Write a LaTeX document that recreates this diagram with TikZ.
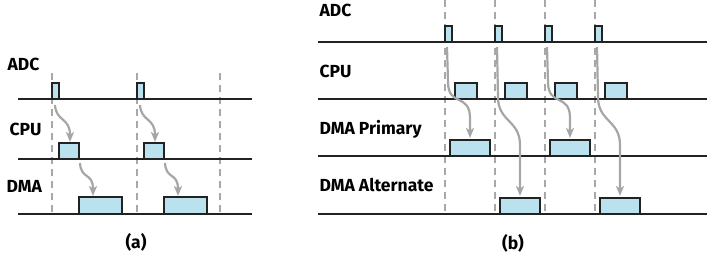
\documentclass[tikz,border=0pt]{standalone}
\usepackage{fontspec}
\setmainfont{Fira Sans}
\usetikzlibrary{arrows.meta}
\definecolor{boxblue}{HTML}{B9E1EE}
\definecolor{darkline}{HTML}{222222}
\definecolor{dashgray}{HTML}{A8A8A8}
\definecolor{flowgray}{HTML}{A6A6A6}
\begin{document}
\begin{tikzpicture}[x=1pt,y=-1pt,>={Stealth[length=10pt,width=8pt,inset=2.5pt]},
	every node/.style={font=\fontsize{17.5}{21}\selectfont\bfseries},
	axis/.style={line width=1.8pt,draw=darkline},
	grid/.style={line width=1.8pt,draw=dashgray,dash pattern=on 7pt off 5pt},
	slot/.style={draw=darkline,fill=boxblue,line width=1.6pt,inner sep=0pt,outer sep=0pt,minimum height=16pt,anchor=south west},
	flow/.style={line width=2.2pt,draw=flowgray,->}]
		\useasboundingbox (0,0) rectangle (710,256);
		
		% (a)
		\foreach \x in {52,137,220} \draw[grid] (\x,73) -- (\x,215);
		\foreach \y/\n in {99/adca,159/cpua,214/dmaa}
			\draw[axis] (18,\y) coordinate (\n-l) -- (252,\y) coordinate (\n-r);
		\node[anchor=base west] (lbl-adca) at (4,71) {ADC};
		\node[anchor=base west] (lbl-cpua) at (6,136) {CPU};
		\node[anchor=base west] (lbl-dmaa) at (3,193) {DMA};
		\foreach \i/\d in {1/0,2/85} {
			\node[slot,minimum width=7pt] (adca\i) at (52+\d,99) {};
			\node[slot,minimum width=20pt] (cpua\i) at (59+\d,159) {};
			\node[slot,minimum width=43pt,minimum height=17pt] (dmaa\i) at (79+\d,214) {};
			\draw[flow] ([shift={(3,6)}]adca\i.south west) .. controls +(1,17) and +(0,-25) .. ([shift={(11,-1)}]cpua\i.north west);
			\draw[flow] ([shift={(1,4)}]cpua\i.south east) .. controls +(1,17) and +(0,-24) .. ([shift={(14,-1)}]dmaa\i.north west);
		}
		\node (cap-a) at (136,242) {(a)};
		
		% (b)
		\foreach \x in {445,495,545,595} \draw[grid] (\x,0) -- (\x,213);
		\foreach \y/\n in {42/adcb,99/cpub,156/dmapb,214/dmaab}
			\draw[axis] (318,\y) coordinate (\n-l) -- (707,\y) coordinate (\n-r);
		\node[anchor=base west] (lbl-adcb) at (316,17) {ADC};
		\node[anchor=base west] (lbl-cpub) at (316,78) {CPU};
		\node[anchor=base west] (lbl-dmapb) at (316,135) {DMA Primary};
		\node[anchor=base west] (lbl-dmaab) at (316,192) {DMA Alternate};
		\foreach \k in {0,1,2,3} {
			\node[slot,minimum width=7pt] (adcb\k) at (445+50*\k,42) {};
			\node[slot,minimum width=22pt] (cpub\k) at (455+50*\k,99) {};
		}
		\foreach \k/\y in {0/156,1/214,2/156,3/214}
			\node[slot,minimum width=40pt] (dmab\k) at (450+50*\k,\y) {};
		\foreach \k/\d/\e in {0/35/22,1/50/53,2/35/22,3/50/53}
			\draw[flow] ([shift={(2,5)}]adcb\k.south west) -- ++(1,\d) .. controls +(0,25) and +(0,-25) .. ([shift={(20,-\e)}]dmab\k.north west) -- ([shift={(20,-2)}]dmab\k.north west);
		\node (cap-b) at (513,243) {(b)};
	\end{tikzpicture}
\end{document}
